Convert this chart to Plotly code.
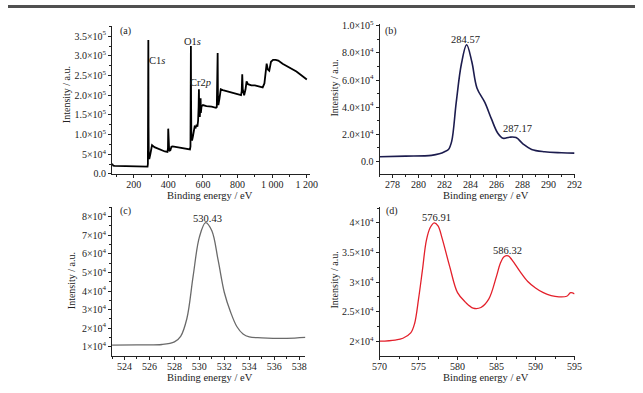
import plotly.graph_objects as go

W, H = 643, 393

# ---------------- data ----------------
survey_energy = [75, 78, 82, 90, 120, 200, 270, 280, 282, 283.5, 284.6, 285.8, 287, 290, 296, 302, 306,
                 320, 350, 380, 395, 398, 399.5, 401, 405, 412, 418, 425, 450, 480, 510, 525, 528,
                 529.5, 530.4, 531.5, 533, 537, 542, 548, 552, 558, 563, 568, 572, 575, 576.8, 578.5,
                 582, 584, 586.5, 588, 592, 600, 620, 650, 675, 680, 683, 685, 686.5, 689, 695, 703,
                 715, 740, 770, 800, 820, 824, 827, 830, 838, 846, 852, 860, 880, 900, 920, 945, 955,
                 963, 968, 975, 983, 993, 1005, 1020, 1035, 1060, 1100, 1140, 1170, 1200]
survey_int = [2.6e4, 2.4e4, 2.1e4, 2.05e4, 2.0e4, 1.9e4, 1.8e4, 1.85e4, 2.5e4, 1.5e5, 3.4e5, 1.2e5,
              4.5e4, 3.8e4, 5.0e4, 6.8e4, 7.3e4, 6.8e4, 6.2e4, 5.7e4, 5.6e4, 6.5e4, 1.15e5, 7.0e4,
              5.8e4, 6.0e4, 6.9e4, 7.0e4, 6.8e4, 6.6e4, 6.3e4, 6.2e4, 7.0e4, 2.0e5, 3.25e5, 1.8e5,
              1.0e5, 8.5e4, 9.5e4, 1.1e5, 1.2e5, 1.18e5, 1.25e5, 1.2e5, 1.35e5, 1.7e5, 2.15e5,
              1.6e5, 1.45e5, 1.8e5, 1.92e5, 1.55e5, 1.72e5, 1.75e5, 1.72e5, 1.71e5, 1.68e5, 1.7e5,
              2.2e5, 3.07e5, 2.0e5, 1.75e5, 1.9e5, 2.15e5, 2.13e5, 2.1e5, 2.06e5, 2.03e5, 2.0e5,
              2.1e5, 2.53e5, 2.15e5, 2.0e5, 2.15e5, 2.35e5, 2.28e5, 2.25e5, 2.25e5, 2.22e5, 2.2e5,
              2.3e5, 2.75e5, 2.8e5, 2.65e5, 2.62e5, 2.85e5, 2.9e5, 2.9e5, 2.88e5, 2.8e5, 2.7e5,
              2.6e5, 2.5e5, 2.4e5]

c1s_energy = [277, 279, 281, 281.6, 282.0, 282.3, 282.55, 282.9, 283.3, 283.7, 284.1, 284.5, 285.1,
              285.6, 286.1, 286.5, 287.0, 287.5, 288.05, 288.7, 289.7, 291.0, 292.0]
c1s_int = [3.4e3, 3.8e3, 4.4e3, 5.5e3, 7.0e3, 8.7e3, 1.47e4, 4.35e4, 7.2e4, 8.6e4, 7.35e4, 5.4e4,
           4.35e4, 3.15e4, 2.07e4, 1.7e4, 1.78e4, 1.75e4, 1.27e4, 8.7e3, 7.0e3, 6.3e3, 6.0e3]

o1s_energy = [523, 525, 527, 528, 528.5, 529, 529.5, 530, 530.5, 531, 531.5, 532, 532.5, 533, 533.5,
              534, 535, 537, 538.5]
o1s_int = [1.09e4, 1.1e4, 1.12e4, 1.26e4, 1.56e4, 2.52e4, 4.8e4, 6.9e4, 7.68e4, 7.24e4, 5.67e4,
           3.92e4, 2.87e4, 2.09e4, 1.69e4, 1.53e4, 1.48e4, 1.45e4, 1.5e4]

cr2p_energy = [570, 572, 573, 574, 574.5, 575, 575.5, 576, 576.5, 577, 577.5, 578, 579, 580, 581,
               582, 583, 584, 585, 585.5, 586, 586.5, 587, 588, 589, 590, 591, 592, 593, 594,
               594.5, 595]
cr2p_int = [2.0e4, 2.02e4, 2.05e4, 2.14e4, 2.3e4, 2.71e4, 3.2e4, 3.7e4, 3.92e4, 4.0e4, 3.95e4,
            3.75e4, 3.26e4, 2.82e4, 2.66e4, 2.56e4, 2.57e4, 2.71e4, 3.1e4, 3.32e4, 3.43e4, 3.44e4,
            3.37e4, 3.18e4, 3.01e4, 2.9e4, 2.82e4, 2.77e4, 2.75e4, 2.76e4, 2.82e4, 2.8e4]

# tick labels
a_xvals = [200, 400, 600, 800, 1000, 1200]
a_xtext = ["200", "400", "600", "800", "1 000", "1 200"]
a_yvals = [0, 5e4, 1e5, 1.5e5, 2e5, 2.5e5, 3e5, 3.5e5]
a_ytext = ["0.0", "5×10<sup>4</sup>", "1.0×10<sup>5</sup>", "1.5×10<sup>5</sup>", "2.0×10<sup>5</sup>",
           "2.5×10<sup>5</sup>", "3.0×10<sup>5</sup>", "3.5×10<sup>5</sup>"]
b_xvals = [278, 280, 282, 284, 286, 288, 290, 292]
b_yvals = [0, 2e4, 4e4, 6e4, 8e4, 1e5]
b_ytext = ["0.0", "2.0×10<sup>4</sup>", "4.0×10<sup>4</sup>", "6.0×10<sup>4</sup>",
           "8.0×10<sup>4</sup>", "1.0×10<sup>5</sup>"]
c_xvals = [524, 526, 528, 530, 532, 534, 536, 538]
c_yvals = [1e4, 2e4, 3e4, 4e4, 5e4, 6e4, 7e4, 8e4]
c_ytext = [f"{i}×10<sup>4</sup>" for i in range(1, 9)]
d_xvals = [570, 575, 580, 585, 590, 595]
d_yvals = [2e4, 2.5e4, 3e4, 3.5e4, 4e4]
d_ytext = ["2×10<sup>4</sup>", "2.5×10<sup>4</sup>", "3×10<sup>4</sup>", "3.5×10<sup>4</sup>",
           "4×10<sup>4</sup>"]

FONT = "Liberation Serif"


def px(x):
    return x / W


def py(y):
    return 1 - y / H


fig = go.Figure()
fig.add_trace(go.Scatter(x=survey_energy, y=survey_int, mode="lines",
                         line=dict(color="#000000", width=1.8), xaxis="x", yaxis="y"))
fig.add_trace(go.Scatter(x=c1s_energy, y=c1s_int, mode="lines", line_shape="spline",
                         line=dict(color="#1c1c4e", width=1.6), xaxis="x2", yaxis="y2"))
fig.add_trace(go.Scatter(x=o1s_energy, y=o1s_int, mode="lines", line_shape="spline",
                         line=dict(color="#6a6a6a", width=1.3), xaxis="x3", yaxis="y3"))
fig.add_trace(go.Scatter(x=cr2p_energy, y=cr2p_int, mode="lines", line_shape="spline",
                         line=dict(color="#e3202b", width=1.3), xaxis="x4", yaxis="y4"))

axis_common = dict(showline=True, linecolor="#222", linewidth=1, ticks="outside", ticklen=3,
                   tickwidth=1, tickcolor="#222", showgrid=False, zeroline=False,
                   tickfont=dict(family=FONT, size=10, color="#222"), mirror=False)


def make_axis(domain, rng, vals, text, mdtick, anchor, standoff=0):
    d = dict(axis_common)
    d.update(domain=domain, range=rng, tickmode="array", tickvals=vals, ticktext=text,
             anchor=anchor, ticklabelstandoff=standoff,
             minor=dict(ticks="outside", ticklen=2, dtick=mdtick, tick0=0, tickcolor="#222"))
    return d


top_dom = [py(173.3), py(21.7)]
top_dom_b = [py(173.3), py(20)]
bot_dom = [py(360), py(207.7)]
left_a = [px(106.7), px(310)]
left_c = [px(106.7), px(305)]
right = [px(381), px(581)]

fig.update_layout(
    width=W, height=H, margin=dict(l=0, r=0, t=0, b=0), showlegend=False,
    paper_bgcolor="white", plot_bgcolor="white",
    font=dict(family=FONT, size=10, color="#222"),
    xaxis=make_axis(left_a, [75, 1220], a_xvals, a_xtext, 100, "y", -2),
    yaxis=make_axis(top_dom, [0, 3.755e5], a_yvals, a_ytext, 2.5e4, "x"),
    xaxis2=make_axis(right, [277, 292], b_xvals, [str(v) for v in b_xvals], 1, "y2", -2),
    yaxis2=make_axis(top_dom_b, [-9.3e3, 1.01e5], b_yvals, b_ytext, 1e4, "x2"),
    xaxis3=make_axis(left_c, [523, 538.5], c_xvals, [str(v) for v in c_xvals], 1, "y3", -2),
    yaxis3=make_axis(bot_dom, [5.1e3, 8.5e4], c_yvals, c_ytext, 5e3, "x3"),
    xaxis4=make_axis(right, [570, 595], d_xvals, [str(v) for v in d_xvals], 2.5, "y4", -2),
    yaxis4=make_axis(bot_dom, [1.753e4, 4.26e4], d_yvals, d_ytext, 2.5e3, "x4"),
)

ann = []


def add_text(x, y, t, size=10, angle=0):
    ann.append(dict(x=px(x), y=py(y), xref="paper", yref="paper", text=t, showarrow=False,
                    font=dict(family=FONT, size=size, color="#222"), textangle=angle,
                    xanchor="center", yanchor="middle"))


# panel labels & peak labels
add_text(120, 27, "(a)")
add_text(153, 57, "C1<i>s</i>", 10.5)
add_text(189, 37, "O1<i>s</i>", 10.5)
add_text(197, 80, "Cr2<i>p</i>", 10.5)
add_text(393, 27, "(b)")
add_text(469.5, 35, "284.57", 10.5)
add_text(522, 127, "287.17", 10.5)
add_text(120, 211, "(c)")
add_text(204.5, 219, "530.43", 10.5)
add_text(394, 211, "(d)")
add_text(439.5, 218, "576.91", 10.5)
add_text(512, 252, "586.32", 10.5)

# axis titles
add_text(207, 195.5, "Binding energy / eV", 10.5)
add_text(490, 195.5, "Binding energy / eV", 10.5)
add_text(207.5, 382.5, "Binding energy / eV", 10.5)
add_text(490, 382, "Binding energy / eV", 10.5)
add_text(60, 92, "Intensity / a.u.", 10, -90)
add_text(335, 85, "Intensity / a.u.", 10, -90)
add_text(65, 283, "Intensity / a.u.", 10, -90)
add_text(335, 282, "Intensity / a.u.", 10, -90)

fig.update_layout(annotations=ann)

# top frame line
fig.add_shape(type="rect", xref="paper", yref="paper", x0=0, x1=1, y0=py(3), y1=1,
              fillcolor="#505050", line=dict(width=0))

fig.write_html("out.html", config={"displayModeBar": False},
               post_script="document.body.style.margin='0';document.body.style.overflow='hidden';")
